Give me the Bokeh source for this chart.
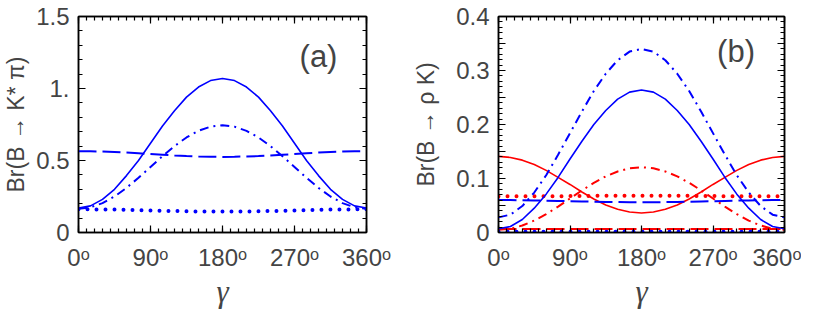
from bokeh.plotting import figure
from bokeh.layouts import row
from bokeh.models import FixedTicker, LinearAxis, Label, Range1d, CustomJSTickFormatter
from bokeh.embed import file_html
from bokeh.resources import INLINE

# ---------------- data ----------------
gamma = [0, 15, 30, 45, 60, 75, 90, 105, 120, 135, 150, 165, 180,
         195, 210, 225, 240, 255, 270, 285, 300, 315, 330, 345, 360]

# panel (a): Br(B -> K* pi)
a_solid = [0.17, 0.185, 0.23, 0.30, 0.395, 0.50, 0.62, 0.74, 0.845, 0.94, 1.01, 1.055, 1.07,
           1.055, 1.01, 0.94, 0.845, 0.74, 0.62, 0.50, 0.395, 0.30, 0.23, 0.185, 0.17]
a_dashdot = [0.165, 0.175, 0.204, 0.25, 0.31, 0.38, 0.455, 0.53, 0.60, 0.66, 0.706, 0.735, 0.745,
             0.735, 0.706, 0.66, 0.60, 0.53, 0.455, 0.38, 0.31, 0.25, 0.204, 0.175, 0.165]
a_dashed = [0.565, 0.564, 0.562, 0.559, 0.555, 0.55, 0.545, 0.54, 0.535, 0.531, 0.528, 0.526, 0.525,
            0.526, 0.528, 0.531, 0.535, 0.54, 0.545, 0.55, 0.555, 0.559, 0.562, 0.564, 0.565]
a_dotted = [0.161, 0.161, 0.16, 0.159, 0.157, 0.155, 0.153, 0.151, 0.149, 0.147, 0.146, 0.145, 0.145,
            0.145, 0.146, 0.147, 0.149, 0.151, 0.153, 0.155, 0.157, 0.159, 0.16, 0.161, 0.161]

# panel (b): Br(B -> rho K)
b_blue_dashdot = [0.028, 0.033, 0.049, 0.074, 0.106, 0.144, 0.184, 0.224, 0.262, 0.294, 0.319, 0.335, 0.34,
                  0.335, 0.319, 0.294, 0.262, 0.224, 0.184, 0.144, 0.106, 0.074, 0.049, 0.033, 0.028]
b_blue_solid = [0.007, 0.011, 0.024, 0.045, 0.071, 0.102, 0.136, 0.169, 0.20, 0.226, 0.247, 0.26, 0.264,
                0.26, 0.247, 0.226, 0.20, 0.169, 0.136, 0.102, 0.071, 0.045, 0.024, 0.011, 0.007]
b_red_solid = [0.141, 0.139, 0.134, 0.126, 0.115, 0.102, 0.089, 0.075, 0.062, 0.051, 0.043, 0.038, 0.036,
               0.038, 0.043, 0.051, 0.062, 0.075, 0.089, 0.102, 0.115, 0.126, 0.134, 0.139, 0.141]
b_red_dashdot = [0.005, 0.007, 0.013, 0.022, 0.034, 0.048, 0.063, 0.078, 0.092, 0.104, 0.113, 0.119, 0.121,
                 0.119, 0.113, 0.104, 0.092, 0.078, 0.063, 0.048, 0.034, 0.022, 0.013, 0.007, 0.005]
b_red_dotted = [0.067, 0.067, 0.067, 0.067, 0.067, 0.0672, 0.0674, 0.0676, 0.0678, 0.068, 0.068, 0.068, 0.068,
                0.068, 0.068, 0.068, 0.0678, 0.0676, 0.0674, 0.0672, 0.067, 0.067, 0.067, 0.067, 0.067]
b_blue_dashed = [0.060, 0.060, 0.0597, 0.0594, 0.059, 0.0585, 0.058, 0.0575, 0.057, 0.0566, 0.0563, 0.0561, 0.056,
                 0.0561, 0.0563, 0.0566, 0.057, 0.0575, 0.058, 0.0585, 0.059, 0.0594, 0.0597, 0.060, 0.060]
b_red_dashed = [0.0065] * 25
b_blue_dotted = [0.0015] * 25

x_ticks = [0, 90, 180, 270, 360]
x_tick_labels = ["0\u1d52", "90\u1d52", "180\u1d52", "270\u1d52", "360\u1d52"]
a_y_ticks = [0, 0.5, 1.0, 1.5]
a_y_labels = ["0", "0.5", "1.", "1.5"]
b_y_ticks = [0, 0.05, 0.1, 0.15, 0.2, 0.25, 0.3, 0.35, 0.4]
b_y_labels = ["0", "", "0.1", "", "0.2", "", "0.3", "", "0.4"]

BLUE = "#0000ff"
RED = "#ff0000"
FONT = "Liberation Sans"
TICK_SIZE = "24px"


def make_fig(ymax, yticks, ylabels, yminor, ylabel, width, left, right, label_standoff):
    p = figure(width=width, height=311, output_backend="svg", toolbar_location=None,
               x_range=Range1d(0, 360), y_range=Range1d(0, ymax),
               min_border_left=left, min_border_right=right, min_border_top=16, min_border_bottom=72,
               x_axis_location=None, y_axis_location=None)
    p.grid.visible = False
    p.outline_line_color = "black"
    p.outline_line_width = 1.5
    p.background_fill_color = "white"
    p.border_fill_color = "white"
    xt = FixedTicker(ticks=x_ticks, minor_ticks=list(range(0, 361, 10)))
    yt = FixedTicker(ticks=yticks, minor_ticks=yminor)
    for loc in ["below", "above"]:
        ax = LinearAxis(ticker=xt)
        if loc == "below":
            ax.major_label_overrides = {t: l for t, l in zip(x_ticks, x_tick_labels)}
            ax.major_label_text_font = FONT
            ax.major_label_text_font_size = TICK_SIZE
            ax.major_label_standoff = 11
            ax.axis_label = "\u03b3"
            ax.axis_label_text_font = "Liberation Serif"
            ax.axis_label_text_font_style = "italic"
            ax.axis_label_text_font_size = "31px"
            ax.axis_label_standoff = 0
        else:
            ax.formatter = CustomJSTickFormatter(code="return ''")
            ax.major_label_standoff = 0
            ax.major_label_text_font_size = "1px"
        ax.major_tick_in = 7
        ax.major_tick_out = 0
        ax.minor_tick_in = 4
        ax.minor_tick_out = 0
        ax.axis_line_width = 1.5
        ax.major_tick_line_width = 1.2
        ax.minor_tick_line_width = 1.2
        p.add_layout(ax, loc)
    for loc in ["left", "right"]:
        ax = LinearAxis(ticker=yt)
        if loc == "left":
            ax.major_label_overrides = {t: l for t, l in zip(yticks, ylabels)}
            ax.major_label_text_font = FONT
            ax.major_label_text_font_size = TICK_SIZE
            ax.major_label_standoff = 9
            ax.axis_label = ylabel
            ax.axis_label_text_font = FONT
            ax.axis_label_text_font_style = "normal"
            ax.axis_label_text_font_size = "23px"
            ax.axis_label_standoff = label_standoff
        else:
            ax.formatter = CustomJSTickFormatter(code="return ''")
            ax.major_label_standoff = 0
            ax.major_label_text_font_size = "1px"
        ax.major_tick_in = 7
        ax.major_tick_out = 0
        ax.minor_tick_in = 4
        ax.minor_tick_out = 0
        ax.axis_line_width = 1.5
        ax.major_tick_line_width = 1.2
        ax.minor_tick_line_width = 1.2
        p.add_layout(ax, loc)
    return p


DOT = dict(line_dash="0 9", line_cap="round", line_width=4)
DASH = dict(line_dash="18 6", line_width=2)
DASHDOT = dict(line_dash="9 5 2 5", line_width=2)
SOLID = dict(line_width=1.6)

pa = make_fig(1.5, a_y_ticks, a_y_labels, [round(0.1 * i, 2) for i in range(16)],
              "Br(B \u2192 K* \u03c0)", 410, 75, 44, 4)
pa.line(gamma, a_solid, line_color=BLUE, **SOLID)
pa.line(gamma, a_dashdot, line_color=BLUE, **DASHDOT)
pa.line(gamma, a_dashed, line_color=BLUE, **DASH)
pa.line(gamma, a_dotted, line_color=BLUE, **DOT)
pa.add_layout(Label(x=300, y=1.22, text="(a)", text_font=FONT, text_font_size="31px",
                    text_align="center", text_baseline="middle"))

pb = make_fig(0.4, b_y_ticks, b_y_labels, [round(0.01 * i, 3) for i in range(41)],
              "Br(B \u2192 \u03c1 K)", 391, 83, 17, 14)
pb.line(gamma, b_red_solid, line_color=RED, **SOLID)
pb.line(gamma, b_red_dashdot, line_color=RED, **DASHDOT)
pb.line(gamma, b_red_dotted, line_color=RED, **DOT)
pb.line(gamma, b_red_dashed, line_color=RED, **DASH)
pb.line(gamma, b_blue_solid, line_color=BLUE, **SOLID)
pb.line(gamma, b_blue_dashdot, line_color=BLUE, **DASHDOT)
pb.line(gamma, b_blue_dashed, line_color=BLUE, **DASH)
pb.line(gamma, b_blue_dotted, line_color=BLUE, **DOT)
pb.add_layout(Label(x=299, y=0.335, text="(b)", text_font=FONT, text_font_size="31px",
                    text_align="center", text_baseline="middle"))

layout = row(pa, pb, spacing=0)
open("out.html", "w").write(file_html(layout, INLINE))
